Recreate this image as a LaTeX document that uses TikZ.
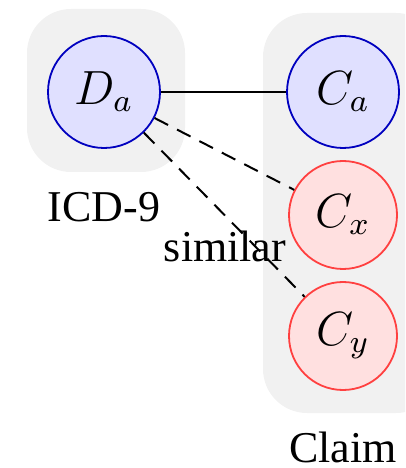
\documentclass[tikz,border=0pt]{standalone}
\usepackage{fontspec}
\setmainfont{Liberation Serif}
\begin{document}
\begin{tikzpicture}[x=0.25pt,y=-0.25pt,
  every node/.style={font=\fontsize{11}{13}\selectfont},
  mth/.style={font=\fontsize{12}{14}\selectfont},
  grp/.style={fill=gray!11, draw=none, rounded corners=11pt},
  bnode/.style={circle, mth, draw=blue!75!black, fill=blue!12, line width=0.45pt, minimum size=28pt, inner sep=0pt},
  rnode/.style={circle, mth, draw=red!75, fill=red!12, line width=0.45pt, minimum size=27pt, inner sep=0pt},
  lbl/.style={anchor=base, inner sep=0pt},
  edge/.style={line width=0.5pt},
  dedge/.style={line width=0.5pt, dash pattern=on 3.8pt off 2.5pt}]
\useasboundingbox (0,0) rectangle (405,468);
\clip (0,0) rectangle (405,468);
\fill[grp] (27,9) rectangle (185,172);
\fill[grp] (263,13) rectangle (440,413);
\node[bnode] (Da) at (104,92) {$D_a$};
\node[bnode] (Ca) at (343,92) {$C_a$};
\node[rnode] (Cx) at (343,215) {$C_x$};
\node[rnode] (Cy) at (343,336) {$C_y$};
\node[lbl] (icd) at (104,222) {ICD-9};
\node[lbl] (sim) at (225,262) {similar};
\node[lbl] (claim) at (343,462) {Claim};
\draw[edge] (Da) -- (Ca);
\draw[dedge] (Da) -- (Cx);
\draw[dedge] (Da) -- (Cy);
\end{tikzpicture}
\end{document}
